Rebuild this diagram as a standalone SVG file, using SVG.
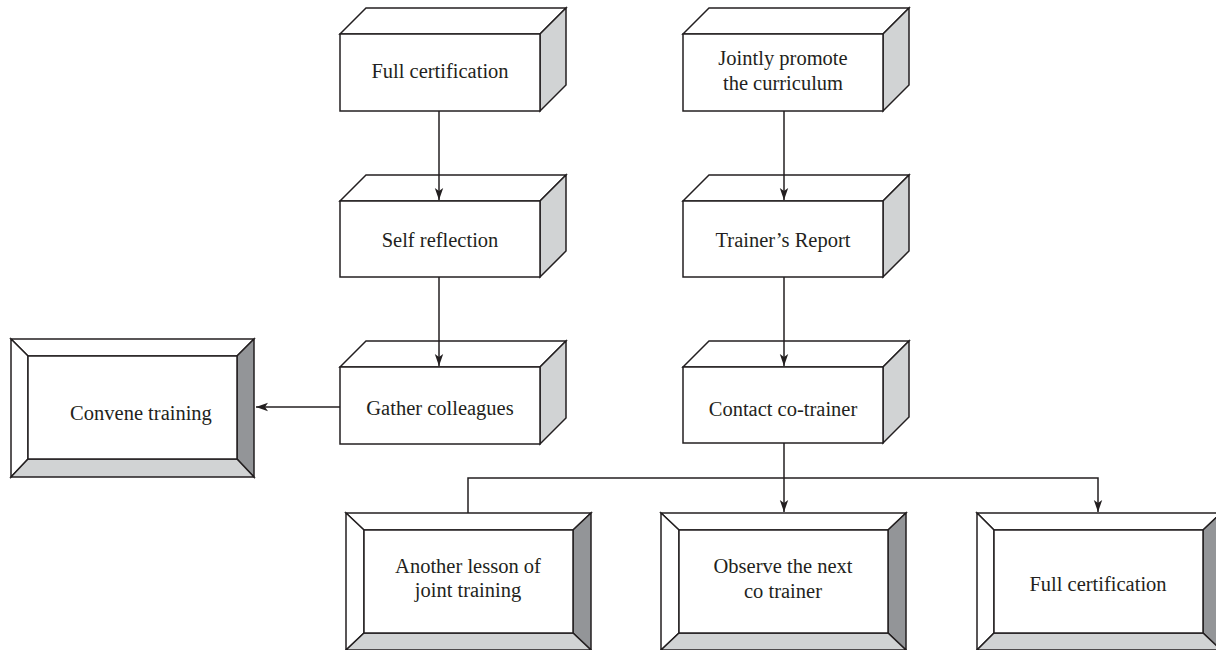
<svg xmlns="http://www.w3.org/2000/svg" width="1216" height="650" viewBox="0 0 1216 650">
<defs>
<style>
.f{fill:#fff;stroke:#231f20;stroke-width:1.5;stroke-linejoin:miter}
.s{fill:#d1d3d4;stroke:#231f20;stroke-width:1.5}
.d{fill:#939598;stroke:#231f20;stroke-width:1.5}
.t{font-family:"Liberation Serif","Times New Roman",serif;font-size:20.5px;fill:#231f20;text-anchor:middle}
.c{fill:none;stroke:#231f20;stroke-width:1.5}
</style>
<marker id="ah" viewBox="0 0 12 10" refX="12" refY="5" markerWidth="12" markerHeight="10" markerUnits="userSpaceOnUse" orient="auto">
<path d="M0,0.8 L12,5 L0,9.2 L3,5 Z" fill="#231f20"/>
</marker>
</defs>
<rect width="1216" height="650" fill="#fff"/>

<g id="n1">
<polygon class="f" points="340,34 366,8 566,8 540,34"/>
<polygon class="s" points="540,34 566,8 566,85 540,111"/>
<rect class="f" x="340" y="34" width="200" height="77"/>
<text class="t" x="440" y="78">Full certification</text>
</g>
<g id="n2">
<polygon class="f" points="340,201 366,175 566,175 540,201"/>
<polygon class="s" points="540,201 566,175 566,251 540,277"/>
<rect class="f" x="340" y="201" width="200" height="76"/>
<text class="t" x="440" y="247">Self reflection</text>
</g>
<g id="n3">
<polygon class="f" points="340,367 366,341 566,341 540,367"/>
<polygon class="s" points="540,367 566,341 566,418 540,444"/>
<rect class="f" x="340" y="367" width="200" height="77"/>
<text class="t" x="440" y="415">Gather colleagues</text>
</g>
<g id="n4">
<polygon class="f" points="683,34 709,8 909,8 883,34"/>
<polygon class="s" points="883,34 909,8 909,85 883,111"/>
<rect class="f" x="683" y="34" width="200" height="77"/>
<text class="t" x="783" y="65">Jointly promote</text>
<text class="t" x="783" y="90">the curriculum</text>
</g>
<g id="n5">
<polygon class="f" points="683,201 709,175 909,175 883,201"/>
<polygon class="s" points="883,201 909,175 909,251 883,277"/>
<rect class="f" x="683" y="201" width="200" height="76"/>
<text class="t" x="783" y="247">Trainer’s Report</text>
</g>
<g id="n6">
<polygon class="f" points="683,367 709,341 909,341 883,367"/>
<polygon class="s" points="883,367 909,341 909,417 883,443"/>
<rect class="f" x="683" y="367" width="200" height="76"/>
<text class="t" x="783" y="416">Contact co-trainer</text>
</g>

<g id="n7">
<polygon class="f" points="11,339 254,339 237,356 28,356"/>
<polygon class="f" points="11,339 28,356 28,459 11,477"/>
<polygon class="d" points="254,339 254,477 237,459 237,356"/>
<polygon class="s" points="11,477 28,459 237,459 254,477"/>
<rect class="f" x="28" y="356" width="209" height="103"/>
<text class="t" x="141" y="420">Convene training</text>
</g>
<g id="n8">
<polygon class="f" points="346,513 591,513 573,530 364,530"/>
<polygon class="f" points="346,513 364,530 364,633 346,650"/>
<polygon class="d" points="591,513 591,650 573,633 573,530"/>
<polygon class="s" points="346,650 364,633 573,633 591,650"/>
<rect class="f" x="364" y="530" width="209" height="103"/>
<text class="t" x="468" y="573">Another lesson of</text>
<text class="t" x="468" y="597">joint training</text>
</g>
<g id="n9">
<polygon class="f" points="661,513 906,513 888,530 679,530"/>
<polygon class="f" points="661,513 679,530 679,633 661,650"/>
<polygon class="d" points="906,513 906,650 888,633 888,530"/>
<polygon class="s" points="661,650 679,633 888,633 906,650"/>
<rect class="f" x="679" y="530" width="209" height="103"/>
<text class="t" x="783" y="573">Observe the next</text>
<text class="t" x="783" y="598">co trainer</text>
</g>
<g id="n10">
<polygon class="f" points="977,513 1221,513 1203,530 994,530"/>
<polygon class="f" points="977,513 994,530 994,633 977,650"/>
<polygon class="d" points="1221,513 1221,650 1203,633 1203,530"/>
<polygon class="s" points="977,650 994,633 1203,633 1221,650"/>
<rect class="f" x="994" y="530" width="209" height="103"/>
<text class="t" x="1098" y="591">Full certification</text>
</g>

<g id="connectors">
<line class="c" x1="439" y1="111" x2="439" y2="200" marker-end="url(#ah)"/>
<line class="c" x1="439" y1="277" x2="439" y2="366" marker-end="url(#ah)"/>
<line class="c" x1="784" y1="111" x2="784" y2="200" marker-end="url(#ah)"/>
<line class="c" x1="784" y1="277" x2="784" y2="366" marker-end="url(#ah)"/>
<line class="c" x1="340" y1="407" x2="256" y2="407" marker-end="url(#ah)"/>
<line class="c" x1="784" y1="443" x2="784" y2="512" marker-end="url(#ah)"/>
<polyline class="c" points="468,513 468,478 1098,478 1098,512" marker-end="url(#ah)"/>
</g>
</svg>
